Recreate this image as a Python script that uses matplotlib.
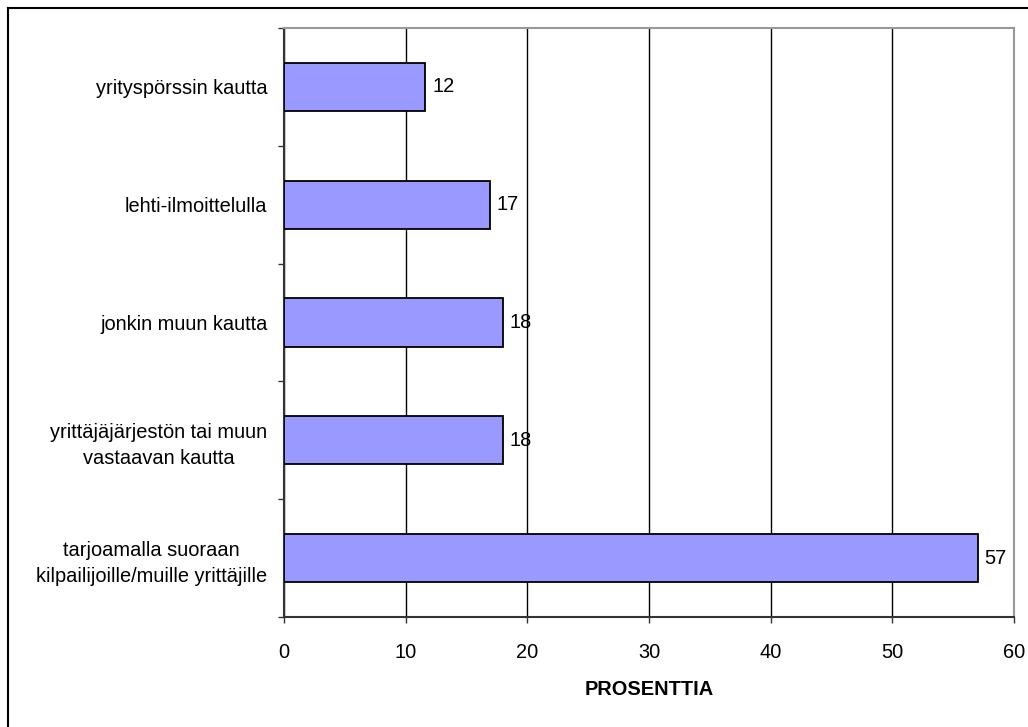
import matplotlib
matplotlib.use("Agg")
import matplotlib.pyplot as plt
from matplotlib.lines import Line2D

# categories listed bottom to top
categories = [
    "tarjoamalla suoraan\nkilpailijoille/muille yrittäjille",
    "yrittäjäjärjestön tai muun\nvastaavan kautta",
    "jonkin muun kautta",
    "lehti-ilmoittelulla",
    "yrityspörssin kautta",
]
values = [57.0, 18.0, 18.0, 16.9, 11.6]
value_labels = ["57", "18", "18", "17", "12"]
x_ticks = [0, 10, 20, 30, 40, 50, 60]

plt.rcParams["font.family"] = ["Liberation Sans", "DejaVu Sans"]
FS = 14.4

W, H = 1028, 727
fig = plt.figure(figsize=(W / 100, H / 100), dpi=100)
ax = fig.add_axes([284 / W, 1 - 617 / H, (1014 - 284) / W, (617 - 28) / H])

pos = list(range(len(categories)))
ax.barh(pos, values, height=0.41, color="#9999FF", edgecolor="black", linewidth=1.3, zorder=3)

for y, v, lab in zip(pos, values, value_labels):
    ax.annotate(lab, (v, y), xytext=(5, 0), textcoords="offset points",
                ha="left", va="center", fontsize=FS, zorder=4)

ax.set_xlim(0, 60)
ax.set_ylim(-0.5, len(categories) - 0.5)
ax.set_xticks(x_ticks)
ax.set_xticklabels([str(t) for t in x_ticks], fontsize=FS)
ax.set_yticks(pos)
ax.set_yticklabels(categories, fontsize=FS, multialignment="center", linespacing=1.45)
ax.set_yticks([p - 0.5 for p in pos] + [len(pos) - 0.5], minor=True)

ax.tick_params(axis="y", which="major", length=0, pad=12)
ax.tick_params(axis="y", which="minor", length=4.5, width=1, color="#333333")
ax.tick_params(axis="x", length=4.5, width=1, pad=14, color="#333333")

ax.xaxis.grid(True, color="black", linewidth=1, zorder=0)
ax.set_axisbelow(True)

for side in ["left", "bottom"]:
    ax.spines[side].set_color("#333333")
    ax.spines[side].set_linewidth(1.5)
for side in ["top", "right"]:
    ax.spines[side].set_color("#999999")
    ax.spines[side].set_linewidth(1.5)

ax.set_xlabel("PROSENTTIA", fontsize=FS, fontweight="bold", labelpad=13)

# outer chart frame (only top and left edges visible)
fig.add_artist(Line2D([8 / W, 8 / W], [0, 1 - 8 / H], color="black", linewidth=1.5))
fig.add_artist(Line2D([8 / W, 1], [1 - 8 / H, 1 - 8 / H], color="black", linewidth=1.5))

fig.savefig("out.png", dpi=100, facecolor="white")
